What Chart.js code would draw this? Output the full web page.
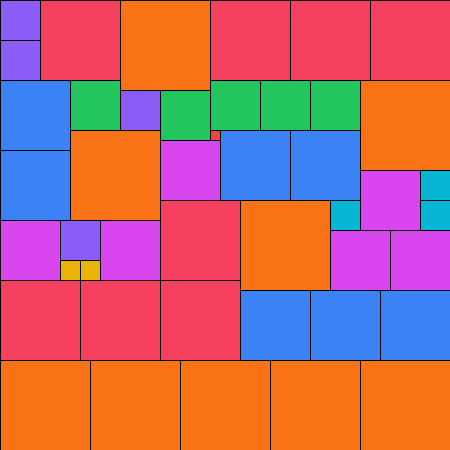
<!DOCTYPE html>
<html lang="en">
<head>
    <meta charset="UTF-8">
    <title>Treemap</title>
    <script src="https://cdn.jsdelivr.net/npm/chart.js"></script>
    <style>
        html, body { margin: 0; padding: 0; background: #ffffff; }
        #box { width: 450px; height: 450px; }
    </style>
</head>
<body>
<div id="box"><canvas id="myChart"></canvas></div>

<script>
    // groups and their colours
    const groupNames = ['rose', 'orange', 'purple', 'blue', 'green', 'magenta', 'cyan', 'yellow', 'red'];
    const groupColors = ['#f43f5e', '#f97316', '#8b5cf6', '#3b82f6', '#22c55e', '#d946ef', '#06b6d4', '#eab308', '#ef4444'];

    // tiles in data units (0..450 both ways, y measured from the top)
    const tileX = [0, 0, 40, 120, 210, 290, 370,
        0, 0, 70, 120, 160, 210, 260, 310, 360, 70, 210, 160, 220, 290,
        360, 420, 420, 330, 160, 240, 330, 390,
        0, 60, 60, 80, 100,
        0, 80, 160, 240, 310, 380,
        0, 90, 180, 270, 360];
    const tileY = [0, 40, 0, 0, 0, 0, 0,
        80, 150, 80, 90, 90, 80, 80, 80, 80, 130, 130, 140, 130, 130,
        170, 170, 200, 200, 200, 200, 230, 230,
        220, 220, 260, 260, 220,
        280, 280, 280, 290, 290, 290,
        360, 360, 360, 360, 360];
    const tileW = [40, 40, 80, 90, 80, 80, 80,
        70, 70, 50, 40, 50, 50, 50, 50, 90, 90, 10, 60, 70, 70,
        60, 30, 30, 30, 80, 90, 60, 60,
        60, 40, 20, 20, 60,
        80, 80, 80, 70, 70, 70,
        90, 90, 90, 90, 90];
    const tileH = [40, 40, 80, 90, 80, 80, 80,
        70, 70, 50, 40, 50, 50, 50, 50, 90, 90, 10, 60, 70, 70,
        60, 30, 30, 30, 80, 90, 60, 60,
        60, 40, 20, 20, 60,
        80, 80, 80, 70, 70, 70,
        90, 90, 90, 90, 90];
    const tileGroup = ['purple', 'purple', 'rose', 'orange', 'rose', 'rose', 'rose',
        'blue', 'blue', 'green', 'purple', 'green', 'green', 'green', 'green', 'orange', 'orange', 'red', 'magenta', 'blue', 'blue',
        'magenta', 'cyan', 'cyan', 'cyan', 'rose', 'orange', 'magenta', 'magenta',
        'magenta', 'purple', 'yellow', 'yellow', 'magenta',
        'rose', 'rose', 'rose', 'blue', 'blue', 'blue',
        'orange', 'orange', 'orange', 'orange', 'orange'];

    // one scatter dataset per group, points at the tile centres
    const datasets = groupNames.map((name, g) => ({
        label: name,
        data: tileGroup.map((tg, i) => tg === name ? {x: tileX[i] + tileW[i] / 2, y: tileY[i] + tileH[i] / 2, i: i} : null)
            .filter(p => p !== null),
        backgroundColor: groupColors[g],
        pointRadius: 0
    }));

    // draws each tile as a rectangle through the x / y scales
    const tilePlugin = {
        id: 'tiles',
        beforeDatasetsDraw(chart) {
            const ctx = chart.ctx;
            const xs = chart.scales.x;
            const ys = chart.scales.y;
            ctx.save();
            chart.data.datasets.forEach((ds) => {
                ds.data.forEach((p) => {
                    const i = p.i;
                    const left = xs.getPixelForValue(tileX[i]);
                    const right = xs.getPixelForValue(tileX[i] + tileW[i]);
                    const top = ys.getPixelForValue(tileY[i]);
                    const bottom = ys.getPixelForValue(tileY[i] + tileH[i]);
                    ctx.fillStyle = ds.backgroundColor;
                    ctx.fillRect(left, top, right - left, bottom - top);
                    ctx.strokeStyle = '#000000';
                    ctx.lineWidth = 1;
                    ctx.strokeRect(Math.round(left) + 0.5, Math.round(top) + 0.5, right - left, bottom - top);
                });
            });
            ctx.restore();
        }
    };

    new Chart(document.getElementById('myChart').getContext('2d'), {
        type: 'scatter',
        data: {datasets: datasets},
        options: {
            responsive: true,
            maintainAspectRatio: false,
            animation: false,
            layout: {padding: 0},
            plugins: {legend: {display: false}, tooltip: {enabled: false}},
            scales: {
                x: {type: 'linear', min: 0, max: 450, display: false},
                y: {type: 'linear', min: 0, max: 450, reverse: true, display: false}
            }
        },
        plugins: [tilePlugin]
    });
</script>

</body>
</html>
